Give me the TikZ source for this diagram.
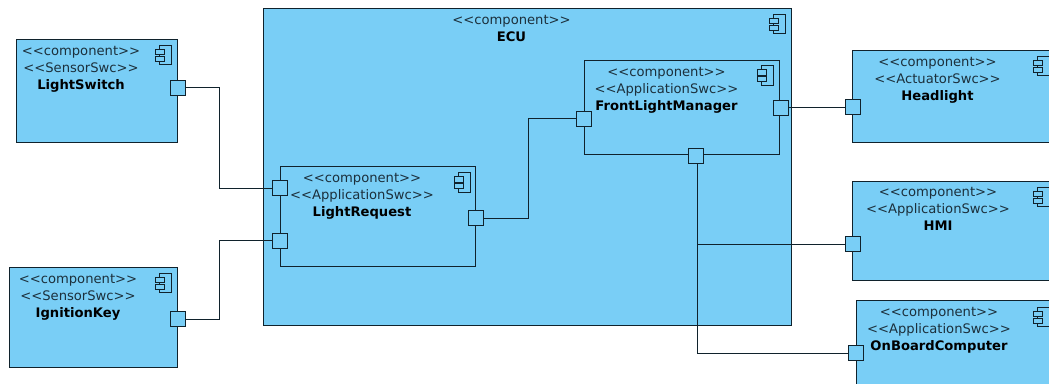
\documentclass[tikz,border=0pt]{standalone}
\usepackage{fontspec}
\setmainfont{DejaVu Sans}
\definecolor{swcblue}{HTML}{79CEF6}
\definecolor{swcline}{HTML}{10222C}
\definecolor{swctext}{HTML}{1C303C}
\tikzset{
  x=0.75pt,y=-0.75pt,
  swcbox/.style={draw=swcline,fill=swcblue,line width=0.75pt,inner sep=0pt,outer sep=0pt,anchor=north west},
  portbox/.style={draw=swcline,fill=swcblue,line width=0.75pt,inner sep=0pt,outer sep=0pt,minimum size=11.25pt},
  wire/.style={draw=swcline,line width=0.75pt},
  swclabel/.style={align=center,anchor=north,inner sep=0pt,outer sep=0pt,text=swctext,font=\fontsize{9.85pt}{12.75pt}\selectfont},
  compicon/.pic={
    \draw[swcline,line width=0.75pt] (-12,0) rectangle (0,19.5);
    \draw[swcline,fill=swcblue,line width=0.75pt] (-16,4) rectangle (-7,9.5);
    \draw[swcline,fill=swcblue,line width=0.75pt] (-16,11) rectangle (-7,16);
  }
}
\newcommand{\swcbold}[1]{{\bfseries\color{black}#1}}
\newcommand{\stereo}[1]{<\kern0pt<#1>\kern0pt>}
\begin{document}
\begin{tikzpicture}
\useasboundingbox (0,0) rectangle (1049,383);
\clip (0,0) rectangle (1049,383);
% boxes
\node[swcbox,minimum width=120.4pt,minimum height=77.25pt] (lightswitch) at (16.5,39) {};
\node[swcbox,minimum width=126pt,minimum height=75pt] (ignition) at (9,267) {};
\node[swcbox,minimum width=396pt,minimum height=237.4pt] (ecu) at (263,8.5) {};
\node[swcbox,minimum width=146.25pt,minimum height=75pt] (lightreq) at (280,166) {};
\node[swcbox,minimum width=146.25pt,minimum height=70.5pt] (flm) at (584,60) {};
\node[swcbox,minimum width=150pt,minimum height=69pt] (headlight) at (852,50) {};
\node[swcbox,minimum width=150pt,minimum height=74.25pt] (hmi) at (852,181) {};
\node[swcbox,minimum width=150pt,minimum height=75pt] (obc) at (856,300.5) {};
% icons
\pic at (171,45) {compicon};
\pic at (171,273) {compicon};
\pic at (785.5,14) {compicon};
\pic at (470,172.5) {compicon};
\pic at (773.5,65.5) {compicon};
\pic at (1049,56) {compicon};
\pic at (1049,187) {compicon};
\pic at (1049,307) {compicon};
% labels
\node[swclabel] (t1) at (81,46.5) {\stereo{component}\\\stereo{SensorSwc}\\\swcbold{LightSwitch}};
\node[swclabel] (t2) at (78,274.5) {\stereo{component}\\\stereo{SensorSwc}\\\swcbold{IgnitionKey}};
\node[swclabel] (t3) at (511.5,15.5) {\stereo{component}\\\swcbold{ECU}};
\node[swclabel] (t4) at (362,173.5) {\stereo{component}\\\stereo{ApplicationSwc}\\\swcbold{LightRequest}};
\node[swclabel] (t5) at (666.5,67) {\stereo{component}\\\stereo{ApplicationSwc}\\\swcbold{FrontLightManager}};
\node[swclabel] (t6) at (937.5,57.5) {\stereo{component}\\\stereo{ActuatorSwc}\\\swcbold{Headlight}};
\node[swclabel] (t7) at (938,187.5) {\stereo{component}\\\stereo{ApplicationSwc}\\\swcbold{HMI}};
\node[swclabel] (t8) at (939,307.5) {\stereo{component}\\\stereo{ApplicationSwc}\\\swcbold{OnBoardComputer}};
% ports
\node[portbox] (pls) at (178,87.5) {};
\node[portbox] (pik) at (178,319) {};
\node[portbox] (plr1) at (280,188) {};
\node[portbox] (plr2) at (280,240.5) {};
\node[portbox] (plr3) at (476,218) {};
\node[portbox] (pf1) at (584,118.5) {};
\node[portbox] (pf2) at (780.5,107.5) {};
\node[portbox] (pf3) at (695.5,155.5) {};
\node[portbox] (phl) at (852.5,106.5) {};
\node[portbox] (phm) at (852.5,244) {};
\node[portbox] (pob) at (856,353) {};
% bends
\coordinate (b1) at (219,87.5);
\coordinate (b2) at (219,319);
\coordinate (b3) at (528,218);
\coordinate (b4) at (697,163);
\coordinate (b5) at (697,244);
\coordinate (b6) at (697,353);
% connectors
\draw[wire] (pls.east) -- (b1) |- (plr1.west);
\draw[wire] (pik.east) -- (b2) |- (plr2.west);
\draw[wire] (plr3.east) -- (b3) |- (pf1.west);
\draw[wire] (pf2.east) -- (pf2.east -| phl.west);
\draw[wire] (b4) -- (b6) -- (pob.west);
\draw[wire] (b5) -- (phm.west);
\end{tikzpicture}
\end{document}
